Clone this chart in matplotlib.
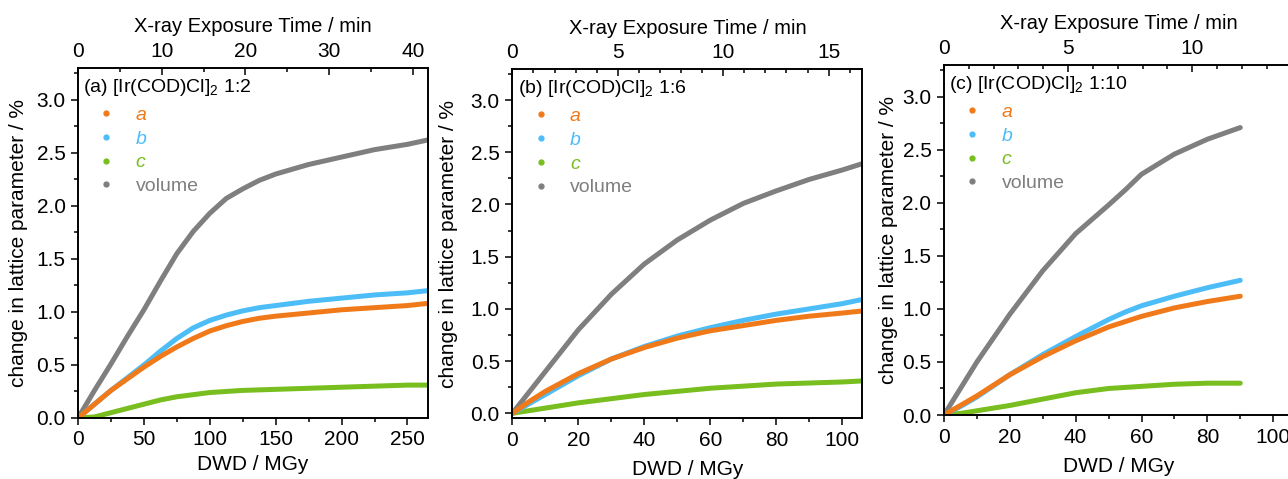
import matplotlib
matplotlib.use('Agg')
import matplotlib.pyplot as plt
from matplotlib.lines import Line2D
from matplotlib.ticker import MultipleLocator

plt.rcParams['font.family'] = ['Liberation Sans', 'DejaVu Sans']
plt.rcParams['mathtext.fontset'] = 'custom'
plt.rcParams['mathtext.rm'] = 'Liberation Sans'
plt.rcParams['mathtext.it'] = 'Liberation Sans:italic'
plt.rcParams['axes.linewidth'] = 1.2

# Panel (a) 1:2
dwd_a = [0, 12.5, 25, 37.5, 50, 62.5, 75, 87.5, 100, 112.5, 125, 137.5, 150, 175, 200, 225, 250, 265]
a_a = [0, 0.13, 0.26, 0.37, 0.48, 0.58, 0.67, 0.75, 0.82, 0.87, 0.91, 0.94, 0.96, 0.99, 1.02, 1.04, 1.06, 1.08]
b_a = [0, 0.13, 0.26, 0.38, 0.50, 0.63, 0.75, 0.85, 0.92, 0.97, 1.01, 1.04, 1.06, 1.10, 1.13, 1.16, 1.18, 1.20]
c_a = [0, 0.01, 0.05, 0.09, 0.13, 0.17, 0.20, 0.22, 0.24, 0.25, 0.26, 0.265, 0.27, 0.28, 0.29, 0.30, 0.31, 0.31]
vol_a = [0, 0.26, 0.51, 0.77, 1.02, 1.29, 1.55, 1.76, 1.93, 2.07, 2.16, 2.24, 2.30, 2.39, 2.46, 2.53, 2.58, 2.62]

# Panel (b) 1:6
dwd_b = [0, 5, 10, 20, 30, 40, 50, 60, 70, 80, 90, 100, 106]
a_b = [0, 0.11, 0.21, 0.38, 0.52, 0.63, 0.72, 0.79, 0.84, 0.89, 0.93, 0.96, 0.98]
b_b = [0, 0.09, 0.18, 0.36, 0.52, 0.64, 0.74, 0.82, 0.89, 0.95, 1.00, 1.05, 1.09]
c_b = [0, 0.025, 0.05, 0.10, 0.14, 0.18, 0.21, 0.24, 0.26, 0.28, 0.29, 0.30, 0.31]
vol_b = [0, 0.20, 0.40, 0.80, 1.14, 1.43, 1.66, 1.85, 2.01, 2.13, 2.24, 2.33, 2.39]

# Panel (c) 1:10
dwd_c = [0, 5, 10, 20, 30, 40, 50, 55, 60, 70, 80, 90]
a_c = [0, 0.09, 0.18, 0.38, 0.55, 0.70, 0.83, 0.88, 0.93, 1.01, 1.07, 1.12]
b_c = [0, 0.08, 0.17, 0.38, 0.57, 0.74, 0.90, 0.97, 1.03, 1.12, 1.20, 1.27]
c_c = [0, 0.015, 0.04, 0.09, 0.15, 0.21, 0.25, 0.26, 0.27, 0.29, 0.30, 0.30]
vol_c = [0, 0.25, 0.50, 0.95, 1.36, 1.71, 1.98, 2.12, 2.27, 2.46, 2.60, 2.71]

titles = ['(a) [Ir(COD)Cl]$_2$ 1:2', '(b) [Ir(COD)Cl]$_2$ 1:6', '(c) [Ir(COD)Cl]$_2$ 1:10']
labels = ['a', 'b', 'c', 'volume']
colors = ['#F07A1A', '#4DBDF7', '#78BE1E', '#7F7F7F']

panels = [
    dict(x=dwd_a, ys=[a_a, b_a, c_a, vol_a], pos=[0.0606, 0.1274, 0.2717, 0.7307],
         xlim=265.6, ylim=(0, 3.30), tmax=41.8, xmaj=50, xmin=25, tmaj=10, tmin=5,
         xl=-37, yl=-50),
    dict(x=dwd_b, ys=[a_b, b_b, c_b, vol_b], pos=[0.3978, 0.1267, 0.2717, 0.7286],
         xlim=106.06, ylim=(-0.048, 3.294), tmax=16.6, xmaj=20, xmin=10, tmaj=5, tmin=1,
         xl=-42, yl=-54),
    dict(x=dwd_c, ys=[a_c, b_c, c_c, vol_c], pos=[0.7329, 0.1336, 0.2717, 0.7307],
         xlim=106.3, ylim=(0, 3.30), tmax=14.1, xmaj=5, xmin=10, tmaj=5, tmin=1,
         xl=-42, yl=-46),
]
panels[2]['xmaj'] = 20

fig = plt.figure(figsize=(12.88, 4.79), dpi=100)

for p, title in zip(panels, titles):
    ax = fig.add_axes(p['pos'])
    # volume first so the lattice curves sit on top
    for y, col in reversed(list(zip(p['ys'], colors))):
        ax.plot(p['x'], y, color=col, lw=3.6, solid_capstyle='round',
                solid_joinstyle='round', zorder=2)
    ax.set_xlim(0, p['xlim'])
    ax.set_ylim(*p['ylim'])
    ax.xaxis.set_major_locator(MultipleLocator(p['xmaj']))
    ax.xaxis.set_minor_locator(MultipleLocator(p['xmin']))
    ax.yaxis.set_major_locator(MultipleLocator(0.5))
    ax.yaxis.set_minor_locator(MultipleLocator(0.25))
    ax.yaxis.set_major_formatter(plt.FormatStrFormatter('%.1f'))
    ax.tick_params(which='both', direction='out', labelsize=15, width=1.1)
    ax.tick_params(which='major', length=5, pad=4)
    ax.tick_params(which='minor', length=3)
    ax.set_xlabel('DWD / MGy', fontsize=15)
    ax.set_ylabel('change in lattice parameter / %', fontsize=15)
    ax.xaxis.set_label_coords(0.5, p['xl'] / 350)
    ax.yaxis.set_label_coords(p['yl'] / 350, 0.5)

    top = ax.twiny()
    top.set_xlim(0, p['tmax'])
    top.xaxis.set_major_locator(MultipleLocator(p['tmaj']))
    top.xaxis.set_minor_locator(MultipleLocator(p['tmin']))
    top.tick_params(which='both', direction='in', labelsize=15, width=1.1, pad=5)
    top.tick_params(which='major', length=5)
    top.tick_params(which='minor', length=3)
    top.set_xlabel('X-ray Exposure Time / min', fontsize=14.5, labelpad=7)

    ax.text(0.015, 0.975, title, transform=ax.transAxes, fontsize=14,
            ha='left', va='top')

    handles = [Line2D([], [], ls='', marker='o', ms=3.5, color=c) for c in colors]
    leg = ax.legend(handles, labels, loc='upper left', bbox_to_anchor=(0.02, 0.93),
                    frameon=False, fontsize=14, handlelength=0.8, handletextpad=1.1,
                    labelspacing=0.32, borderpad=0.2)
    for txt, col in zip(leg.get_texts(), colors):
        txt.set_color(col)
    for txt in leg.get_texts()[:3]:
        txt.set_fontstyle('italic')

fig.savefig('out.png', dpi=100)
